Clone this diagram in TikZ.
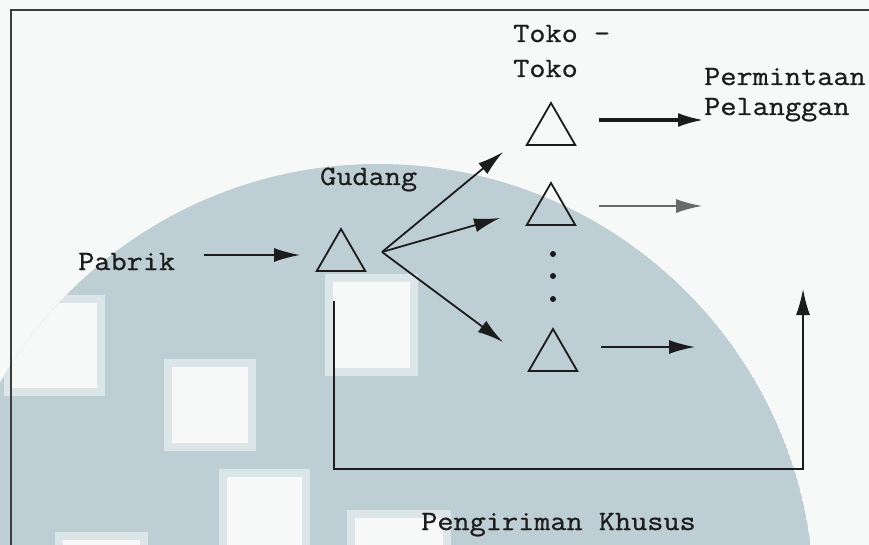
\documentclass[tikz,border=0pt]{standalone}
\usepackage{fontspec}
\setmonofont{Latin Modern Mono}[FakeStretch=1.12, FakeBold=0.8]
\usetikzlibrary{shapes.geometric,arrows.meta}
\definecolor{wash}{RGB}{189,206,212}
\definecolor{paper}{RGB}{247,248,248}
\definecolor{fringe}{RGB}{220,229,232}
\definecolor{ink}{RGB}{28,28,28}
\definecolor{softink}{RGB}{105,105,105}
\definecolor{framecol}{RGB}{60,60,60}
\begin{document}
\begin{tikzpicture}[x=1pt,y=-1pt,
  txt/.style={font=\ttfamily\fontsize{28}{34}\selectfont, inner sep=0pt, anchor=base west, text=ink},
  tri/.style={draw=ink, line width=1.8pt, regular polygon, regular polygon sides=3,
              minimum size=56pt, inner sep=0pt, outer sep=0pt},
  flow/.style={draw=ink, line width=1.8pt, -{Latex[length=26pt,width=14pt]}},
  dot/.style={circle, fill=ink, inner sep=0pt, minimum size=6pt},
]
\useasboundingbox (0,0) rectangle (869,545);

% backdrop: pale disc with window squares
\fill[paper] (0,0) rectangle (869,545);
\begin{scope}
  \clip (0,0) rectangle (869,545);
  \clip (378,600) circle[radius=436];
  \fill[wash] (378,600) circle[radius=436];
  \foreach \x/\y/\w/\h in {12/303/85/85, 172/367/76/76, 333/282/77/86,
                           227/477/75/80, 355/518/88/40, 63/540/77/20} {
    \fill[fringe] (\x-8,\y-8) rectangle ++(\w+16,\h+16);
    \fill[paper] (\x,\y) rectangle ++(\w,\h);
  }
\end{scope}

% frame
\draw[framecol, line width=2pt] (869,10) -- (11,10) -- (11,546);

% labels
\node[txt] (toko1) at (513,42) {Toko -};
\node[txt] (toko2) at (513,77) {Toko};
\node[txt] (minta) at (704,85) {Permintaan};
\node[txt] (plg) at (704,115) {Pelanggan};
\node[txt] (gudangtxt) at (320,185) {Gudang};
\node[txt] (pabrik) at (78,270) {Pabrik};
\node[txt] (khusus) at (421,530) {Pengiriman Khusus};

% warehouse and stores
\node[tri] (g) at (341,257) {};
\node[tri] (t1) at (551,131) {};
\node[tri] (t2) at (551,211) {};
\node[tri] (t3) at (553,357) {};

% ellipsis between stores
\node[dot] (d1) at (553,254) {};
\node[dot] (d2) at (553,276) {};
\node[dot] (d3) at (553,299) {};

% connector end points
\coordinate (pout) at (204,255);
\coordinate (gin) at (300,255);
\coordinate (fan) at (382,252);
\coordinate (f1) at (503,152);
\coordinate (f2) at (500,218);
\coordinate (f3) at (503,342);
\coordinate (o1s) at (599,120);
\coordinate (o1e) at (704,120);
\coordinate (o2s) at (599,206);
\coordinate (o2e) at (702,206);
\coordinate (o3s) at (601,347);
\coordinate (o3e) at (695,347);
\coordinate (ks) at (334,301);
\coordinate (kb) at (803,469);
\coordinate (ke) at (803,289);

% flows
\draw[flow] (pout) -- (gin);
\draw[flow] (fan) -- (f1);
\draw[flow] (fan) -- (f2);
\draw[flow] (fan) -- (f3);
\draw[flow, line width=3.6pt] (o1s) -- (o1e);
\draw[flow, draw=softink, fill=ink] (o2s) -- (o2e);
\draw[flow] (o3s) -- (o3e);
\draw[flow, line width=1.6pt] (ks) |- (kb) -- (ke);
\end{tikzpicture}
\end{document}
